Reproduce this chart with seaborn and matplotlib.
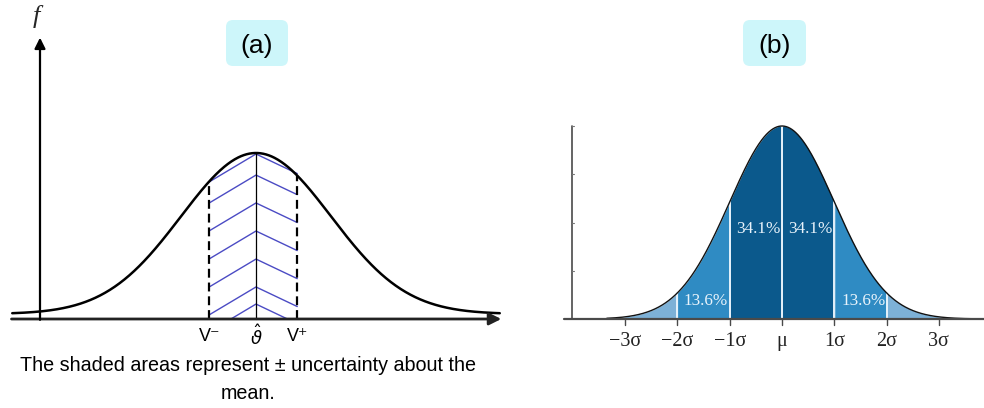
import numpy as np
import matplotlib
matplotlib.use("Agg")
import matplotlib.pyplot as plt
import seaborn as sns
import pandas as pd
from matplotlib.patches import FancyBboxPatch
from matplotlib.transforms import IdentityTransform

# ------------------------------------------------------------------ data
panel_titles = ["(a)", "(b)"]

# panel (a): bell curve with +/- uncertainty band around the mean
a_mean = 0.0
a_sigma = 1.0
a_floor = 0.03                      # level of the tails above the axis
a_bounds = [-0.62, 0.55]            # V-, V+
a_bound_labels = ["V⁻", r"$\hat{\vartheta}$", "V⁺"]
a_chevron_heights = [0.994, 0.867, 0.699, 0.530, 0.361, 0.193, 0.090]
a_chevron_drop = [0.167, 0.118]     # drop from centre to left / right bound
a_caption = ["The shaded areas represent ± uncertainty about the", "mean."]

# panel (b): standard normal with sigma bands
b_sigma_ticks = [-3, -2, -1, 0, 1, 2, 3]
b_tick_labels = ["−3σ", "−2σ", "−1σ", "μ", "1σ", "2σ", "3σ"]
b_band_edges = [-3.4, -2, -1, 0, 1, 2, 3.9]
b_band_colors = ["#7db1d7", "#2f8bc3", "#0b598c", "#0b598c", "#2f8bc3", "#7db1d7"]
b_pct_labels = ["13.6%", "34.1%", "34.1%", "13.6%"]
b_pct_x = [-1.45, -0.45, 0.55, 1.57]
b_pct_y = [0.093, 0.466, 0.466, 0.093]
b_yticks = [0.25, 0.5, 0.75, 1.0]

# ------------------------------------------------------------------ figure
W, H = 984, 408
sns.set_theme(style="white")
plt.rcParams["font.family"] = ["Liberation Sans", "DejaVu Sans"]
plt.rcParams["mathtext.fontset"] = "dejavusans"

fig = plt.figure(figsize=(W / 100, H / 100), dpi=100)
fig.patch.set_facecolor("white")

# ---------------- panel (a)
ax_a = fig.add_axes([0, 0, 520 / W, 1])
xa = np.linspace(-3.25, 3.25, 700)
ya = a_floor + (1 - a_floor) * np.exp(-0.5 * ((xa - a_mean) / a_sigma) ** 2)
df_a = pd.DataFrame({"x": xa, "f": ya})


def curve_a(x):
    return a_floor + (1 - a_floor) * np.exp(-0.5 * ((x - a_mean) / a_sigma) ** 2)


# chevron hatching
sl = a_chevron_drop[0] / abs(a_bounds[0] - a_mean)
sr = a_chevron_drop[1] / abs(a_bounds[1] - a_mean)
for h in a_chevron_heights:
    xl = max(a_bounds[0], a_mean - h / sl)
    xr = min(a_bounds[1], a_mean + h / sr)
    yl = h - sl * (a_mean - xl)
    yr = h - sr * (xr - a_mean)
    ax_a.plot([xl, a_mean, xr], [yl, h, yr], color="#4b4bc4", lw=1.0, zorder=2)

# centre line and dashed bounds
ax_a.plot([a_mean, a_mean], [0, curve_a(a_mean)], color="black", lw=0.9, zorder=3)
for b in a_bounds:
    ax_a.plot([b, b], [0, curve_a(b)], color="black", lw=1.6,
              linestyle=(0, (4, 2.2)), zorder=3)

sns.lineplot(data=df_a, x="x", y="f", ax=ax_a, color="black", lw=1.8,
             sort=False, zorder=4)

# axes with arrows
ax_a.annotate("", xy=(3.27, 0), xytext=(-3.26, 0),
              arrowprops=dict(arrowstyle="-|>", color="#222222", lw=2.0,
                              mutation_scale=18, shrinkA=0, shrinkB=0), zorder=5)
ax_a.annotate("", xy=(-2.88, 1.695), xytext=(-2.88, -0.005),
              arrowprops=dict(arrowstyle="-|>", color="black", lw=1.6,
                              mutation_scale=16, shrinkA=0, shrinkB=0), zorder=5)

# labels under the axis
for xpos, lab in zip([a_bounds[0], a_mean, a_bounds[1]], a_bound_labels):
    ax_a.text(xpos, -0.108, lab, ha="center", va="center", fontsize=13,
              family=["Liberation Sans", "DejaVu Sans"], color="black")

ax_a.set_xlim(-256 / 75, 264 / 75)
ax_a.set_ylim(-89 / 166, 319 / 166)
ax_a.axis("off")

# ---------------- panel (b)
ax_b = fig.add_axes([520 / W, 0, 464 / W, 1])
xb = np.linspace(-3.35, 3.86, 800)
yb = np.exp(-0.5 * xb ** 2)
df_b = pd.DataFrame({"x": xb, "density": yb})

for lo, hi, col in zip(b_band_edges[:-1], b_band_edges[1:], b_band_colors):
    m = (xb >= lo) & (xb <= hi)
    ax_b.fill_between(xb[m], 0, yb[m], color=col, lw=0, zorder=1)
for t in b_sigma_ticks[1:-1]:
    ax_b.plot([t, t], [0, np.exp(-0.5 * t ** 2)], color="#e6f2fb", lw=1.4, zorder=2)

sns.lineplot(data=df_b, x="x", y="density", ax=ax_b, color="#111111", lw=1.0,
             sort=False, zorder=3)

# axes
ax_b.plot([-4.17, 3.86], [0, 0], color="#4a4a4a", lw=1.6, zorder=4)
ax_b.plot([-4.02, -4.02], [0, 1.0], color="#4a4a4a", lw=1.2, zorder=4)
for yt in b_yticks:
    ax_b.plot([-4.02, -3.98], [yt, yt], color="#777777", lw=0.8, zorder=4)
for t, lab in zip(b_sigma_ticks, b_tick_labels):
    ax_b.plot([t, t], [0, -0.03], color="#4a4a4a", lw=1.0, zorder=4)
    ax_b.text(t, -0.119, lab, ha="center", va="center", fontsize=14.5,
              family=["Liberation Serif", "DejaVu Serif"], color="#222222")

for x, y, lab in zip(b_pct_x, b_pct_y, b_pct_labels):
    ax_b.text(x, y, lab, ha="center", va="center", fontsize=12.3,
              family=["Liberation Serif", "DejaVu Serif"], color="#e8f3fb", zorder=5)

ax_b.set_xlim(-262 / 52.3, 202 / 52.3)
ax_b.set_ylim(-89 / 193, 319 / 193)
ax_b.axis("off")

# ---------------- titles, boxes and caption (figure pixel coords)
for (x0, x1), title in zip([(226, 288), (743, 806)], panel_titles):
    box = FancyBboxPatch((x0, H - 66), x1 - x0, 46,
                         boxstyle="round,pad=0,rounding_size=7",
                         transform=IdentityTransform(), facecolor="#cdf6fa",
                         edgecolor="none", zorder=0)
    fig.patches.append(box)
    fig.text((x0 + x1) / 2 / W, 1 - 46 / H, title, ha="center", va="center",
             fontsize=19, color="black")

fig.text(36 / W, 1 - 16 / H, "f", ha="center", va="center", fontsize=19,
         style="italic", family=["Liberation Serif", "DejaVu Serif"])

fig.text(248 / W, 1 - 371 / H, a_caption[0], ha="center", va="baseline",
         fontsize=14.2, color="black")
fig.text(248 / W, 1 - 399 / H, a_caption[1], ha="center", va="baseline",
         fontsize=14.2, color="black")

fig.savefig("out.png", dpi=100, facecolor="white")
